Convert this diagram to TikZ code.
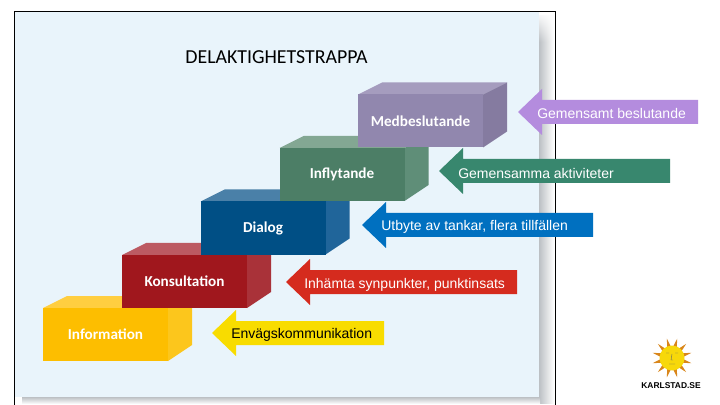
\documentclass[tikz,border=0pt]{standalone}
\usepackage{fontspec}
\setmainfont{Liberation Sans}
\newfontfamily\stepfont{Carlito}
\usepackage{xcolor}
\usepackage{tikz}
\usetikzlibrary{positioning,calc,fadings}
\definecolor{cPanel}{HTML}{E9F4FB}
\definecolor{cShadow}{HTML}{BCC0C4}
\definecolor{cInfoF}{HTML}{FDBE00}
\definecolor{cInfoT}{HTML}{FFCE40}
\definecolor{cInfoS}{HTML}{FCC61C}
\definecolor{cKonsF}{HTML}{A0171D}
\definecolor{cKonsT}{HTML}{BC5A62}
\definecolor{cKonsS}{HTML}{A93239}
\definecolor{cDiaF}{HTML}{004F85}
\definecolor{cDiaT}{HTML}{4A80A8}
\definecolor{cDiaS}{HTML}{20659A}
\definecolor{cInfF}{HTML}{4C7E66}
\definecolor{cInfT}{HTML}{83A793}
\definecolor{cInfS}{HTML}{5F8E78}
\definecolor{cMedF}{HTML}{9187AE}
\definecolor{cMedT}{HTML}{A59CBE}
\definecolor{cMedS}{HTML}{857BA0}
\definecolor{cArPurple}{HTML}{B48CDE}
\definecolor{cArGreen}{HTML}{38876E}
\definecolor{cArBlue}{HTML}{0070C0}
\definecolor{cArRed}{HTML}{D52B1E}
\definecolor{cArYellow}{HTML}{F8DC00}
\definecolor{cSun}{HTML}{F7D80A}
\definecolor{cRay}{HTML}{D9861A}

\begin{document}
\begin{tikzpicture}[x=0.025cm,y=-0.025cm,
  stepbox/.style={inner sep=0pt,text=white,
                  font=\fontsize{10.8}{13}\stepfont\bfseries},
  artext/.style={anchor=west,inner sep=0pt,text=white,
                 font=\fontsize{9.95}{12}\selectfont},
  frameline/.style={line width=0.75pt,black}]
\useasboundingbox (0,0) rectangle (720,405);
\fill[white] (0,0) rectangle (720,405);
% panel with its shadow
\shade[left color=cShadow,right color=white] (539,16) rectangle (554,403);
\fill[white,path fading=south] (539,12) rectangle (555,42);
\shade[top color=cShadow,bottom color=white] (22,397) rectangle (540,404);
\fill[cPanel] (15,12) rectangle (539,397);
\draw[frameline] (14.5,405) -- (14.5,11.5) -- (555.5,11.5) -- (555.5,405);
\node[inner sep=0pt,font=\fontsize{14.1}{16}\stepfont] (title) at (276.5,57) {DELAKTIGHETSTRAPPA};
% steps, lowest first
\foreach \nm/\x/\y/\cf/\ct/\cs/\lb in {
  ifm/43/308/cInfoF/cInfoT/cInfoS/Information,
  kon/122/255/cKonsF/cKonsT/cKonsS/Konsultation,
  dia/200.5/201.5/cDiaF/cDiaT/cDiaS/Dialog,
  inf/279.5/148/cInfF/cInfT/cInfS/Inflytande,
  med/358/94.5/cMedF/cMedT/cMedS/Medbeslutande}{
  \fill[\ct] (\x,\y) -- ++(24,-12) -- ++(125,0) -- ++(-24,12) -- cycle;
  \fill[\cs] (\x+125,\y) -- ++(24,-12) -- ++(0,49) -- ++(-24,16) -- cycle;
  \fill[\cf] (\x,\y) rectangle ++(125,53);
  \node[stepbox] (\nm) at (\x+62.5,\y+26.5) {\lb};
}
% arrows
\foreach \nm/\x/\y/\rgt/\col in {
  apur/518/112/698/cArPurple,
  agre/439/171/670/cArGreen,
  ablu/362/225/593/cArBlue,
  ared/286/282/517/cArRed,
  ayel/212/333/384/cArYellow}{
  \fill[\col] (\x,\y) -- (\x+24,\y-23) -- (\x+24,\y-12) -- (\rgt,\y-12)
    -- (\rgt,\y+12) -- (\x+24,\y+12) -- (\x+24,\y+23) -- cycle;
}
\node[artext] (t1) at (537,113.7) {Gemensamt beslutande};
\node[artext] (t2) at (458,173.2) {Gemensamma aktiviteter};
\node[artext] (t3) at (381,226.7) {Utbyte av tankar, flera tillfällen};
\node[artext] (t4) at (304,284.8) {Inhämta synpunkter, punktinsats};
\node[artext,text=black] (t5) at (231,334.8) {Envägskommunikation};
% logo
\foreach \a in {0,30,...,330}
  \fill[cRay] ($(672,358)+(\a+2:10)$) -- ($(672,358)+(\a+15:20)$) -- ($(672,358)+(\a+28:10)$) -- cycle;
\fill[cSun] (672,358) circle (12.5);
\draw[line width=0.3pt,black!60] (666,353) -- (669,353) (675,353) -- (678,353)
  (672,354) -- (671,360) -- (673,360) (669,364) -- (675,364);
\node[inner sep=0pt,font=\fontsize{6}{7}\selectfont\bfseries] (logo) at (671,385.5) {KARLSTAD.SE};
\end{tikzpicture}
\end{document}
